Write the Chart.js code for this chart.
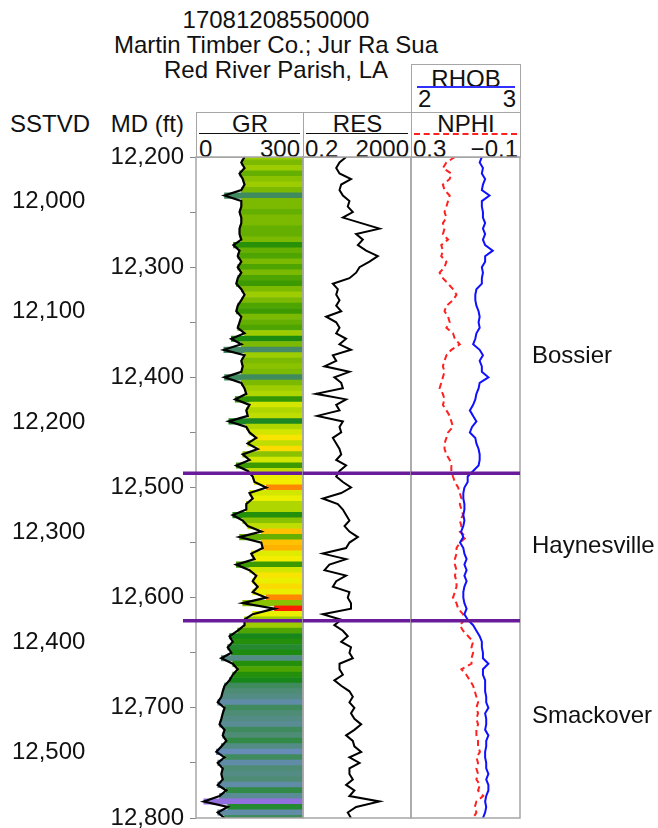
<!DOCTYPE html>
<html>
<head>
<meta charset="utf-8">
<script src="https://cdn.jsdelivr.net/npm/chart.js"></script>
<style>
	html, body { margin: 0; padding: 0; background: #fff; overflow: hidden; }
	body { width: 658px; height: 828px; position: relative; font-family: "Liberation Sans", Arial, sans-serif; color: #111; }
	.t { position: absolute; font-size: 24px; line-height: 28px; height: 28px; white-space: nowrap; }
	.c { text-align: center; }
	.r { text-align: right; }
	.box { position: absolute; border: 1px solid #a6a6a6; box-sizing: border-box; }
	.ul { position: absolute; height: 0; }
	canvas { position: absolute; }
</style>
</head>
<body>

<div class="t c" style="left:76px;width:400px;top:6px">17081208550000</div>
<div class="t c" style="left:76px;width:400px;top:31px">Martin Timber Co.; Jur Ra Sua</div>
<div class="t c" style="left:76px;width:400px;top:56px">Red River Parish, LA</div>

<div class="t" style="left:10px;top:110px">SSTVD</div>
<div class="t r" style="left:84px;width:100px;top:110px">MD (ft)</div>

<!-- RHOB header -->
<div class="box" style="left:411px;top:64px;width:110px;height:49px"></div>
<div class="t c" style="left:411px;width:110px;top:65px">RHOB</div>
<div class="ul" style="left:417px;width:98px;top:86px;border-top:2px solid #3030ff"></div>
<div class="t" style="left:418px;top:85px">2</div>
<div class="t r" style="left:470px;width:46px;top:85px">3</div>

<!-- track headers -->
<div class="box" style="left:196px;top:112px;width:108px;height:46px"></div>
<div class="box" style="left:303px;top:112px;width:109px;height:46px"></div>
<div class="box" style="left:411px;top:112px;width:110px;height:46px"></div>

<div class="t c" style="left:196px;width:108px;top:110px">GR</div>
<div class="ul" style="left:199px;width:101px;top:133px;border-top:1.5px solid #111"></div>
<div class="t" style="left:199px;top:135px">0</div>
<div class="t r" style="left:240px;width:60px;top:135px">300</div>

<div class="t c" style="left:303px;width:109px;top:110px">RES</div>
<div class="ul" style="left:306px;width:102px;top:133px;border-top:1.5px solid #111"></div>
<div class="t" style="left:305px;top:135px">0.2</div>
<div class="t r" style="left:349px;width:60px;top:135px">2000</div>

<div class="t c" style="left:411px;width:110px;top:110px">NPHI</div>
<div class="ul" style="left:414px;width:103px;top:133px;border-top:2px dashed #ff2020"></div>
<div class="t" style="left:413px;top:135px">0.3</div>
<div class="t r" style="left:458px;width:60px;top:135px">&minus;0.1</div>

<canvas id="grChart" width="305" height="718" style="left:0px;top:130px"></canvas>
<canvas id="resChart" width="128" height="718" style="left:293px;top:130px"></canvas>
<canvas id="nphiChart" width="257" height="718" style="left:401px;top:130px"></canvas>

<script>
	// depth (MD, ft)
	var depth = [
		12200, 12205, 12210, 12215, 12220, 12225, 12230, 12235, 12240, 12245,
		12250, 12255, 12260, 12265, 12270, 12275, 12280, 12285, 12290, 12295,
		12300, 12305, 12310, 12315, 12320, 12325, 12330, 12335, 12340, 12345,
		12350, 12355, 12360, 12365, 12370, 12375, 12380, 12385, 12390, 12395,
		12400, 12405, 12410, 12415, 12420, 12425, 12430, 12435, 12440, 12445,
		12450, 12455, 12460, 12465, 12470, 12475, 12480, 12485, 12490, 12495,
		12500, 12505, 12510, 12515, 12520, 12525, 12530, 12535, 12540, 12545,
		12550, 12555, 12560, 12565, 12570, 12575, 12580, 12585, 12590, 12595,
		12600, 12605, 12610, 12615, 12620, 12625, 12630, 12635, 12640, 12645,
		12650, 12655, 12660, 12665, 12670, 12675, 12680, 12685, 12690, 12695,
		12700, 12705, 12710, 12715, 12720, 12725, 12730, 12735, 12740, 12745,
		12750, 12755, 12760, 12765, 12770, 12775, 12780, 12785, 12790, 12795,
		12800
	];

	// gamma ray (API)
	var gr = [
		136, 127, 136, 122, 131, 136, 127, 80, 127, 127,
		122, 127, 127, 122, 122, 127, 105, 122, 117, 127,
		117, 127, 117, 113, 127, 136, 127, 117, 113, 127,
		122, 117, 136, 99, 127, 78, 136, 127, 131, 127,
		80, 127, 136, 141, 110, 150, 141, 145, 92, 141,
		150, 169, 145, 173, 131, 150, 113, 145, 159, 164,
		197, 150, 159, 141, 141, 103, 131, 145, 183, 122,
		183, 187, 155, 164, 113, 150, 169, 159, 173, 159,
		197, 131, 220, 159, 136, 136, 117, 94, 103, 89,
		99, 71, 103, 117, 103, 94, 80, 75, 71, 61,
		80, 75, 71, 66, 80, 75, 85, 71, 57, 80,
		61, 75, 71, 75, 61, 85, 66, 22, 89, 61,
		80
	];

	// resistivity (ohm.m)
	var res = [
		7.9, 4.5, 3.4, 4.5, 12, 5.2, 4.5, 6.0, 10.5, 9.1,
		14, 6.0, 28.6, 136, 18.6, 32.9, 21.5, 43.7, 118, 58,
		24.8, 18.6, 10.5, 2.55, 3.9, 3.4, 4.5, 3.4, 5.2, 1.44,
		3.4, 4.5, 3.4, 7.9, 4.5, 12, 2.55, 3.4, 1.25, 10.5,
		2.9, 5.2, 6.0, 0.6, 7.9, 3.4, 4.5, 0.68, 6.0, 4.5,
		5.2, 2.55, 3.4, 4.5, 5.2, 3.4, 7.9, 4.5, 3.4, 6.0,
		12, 5.2, 1.08, 3.9, 6.0, 7.9, 10.5, 6.9, 10.5, 21.5,
		10.5, 7.9, 1.08, 7.9, 1.9, 1.25, 7.9, 3.4, 2.55, 10.5,
		9.1, 12, 12, 1.08, 5.2, 2.9, 6.0, 9.1, 5.2, 12,
		10.5, 14, 4.5, 4.5, 6.0, 2.9, 5.2, 10.5, 14, 10.5,
		16, 12, 16, 28.6, 16, 7.9, 14, 16, 28.6, 10.5,
		24.8, 10.5, 10.5, 14, 7.9, 16, 10.5, 136, 18.6, 9.1,
		12
	];

	// neutron porosity (v/v)
	var nphi = [
		0.139, 0.170, 0.183, 0.152, 0.158, 0.183, 0.177, 0.158, 0.164, 0.170,
		0.177, 0.170, 0.183, 0.177, 0.183, 0.164, 0.189, 0.183, 0.189, 0.170,
		0.177, 0.195, 0.183, 0.164, 0.146, 0.133, 0.146, 0.170, 0.177, 0.164,
		0.158, 0.170, 0.146, 0.139, 0.121, 0.152, 0.170, 0.177, 0.183, 0.177,
		0.183, 0.189, 0.195, 0.183, 0.177, 0.183, 0.170, 0.158, 0.152, 0.146,
		0.164, 0.170, 0.177, 0.177, 0.170, 0.158, 0.152, 0.152, 0.146, 0.139,
		0.127, 0.121, 0.115, 0.121, 0.115, 0.109, 0.121, 0.115, 0.121, 0.097,
		0.121, 0.133, 0.133, 0.139, 0.139, 0.133, 0.139, 0.133, 0.133, 0.139,
		0.146, 0.133, 0.127, 0.109, 0.103, 0.121, 0.109, 0.090, 0.072, 0.078,
		0.072, 0.078, 0.078, 0.115, 0.097, 0.084, 0.072, 0.066, 0.060, 0.054,
		0.060, 0.054, 0.060, 0.054, 0.060, 0.060, 0.054, 0.054, 0.047, 0.060,
		0.054, 0.060, 0.054, 0.060, 0.047, 0.054, 0.035, 0.060, 0.066, 0.060,
		0.072
	];

	// bulk density (g/cc)
	var rhob = [
		2.65, 2.63, 2.66, 2.65, 2.68, 2.66, 2.65, 2.72, 2.65, 2.65,
		2.66, 2.66, 2.68, 2.66, 2.68, 2.66, 2.68, 2.75, 2.68, 2.68,
		2.65, 2.66, 2.65, 2.65, 2.60, 2.59, 2.59, 2.60, 2.62, 2.63,
		2.62, 2.63, 2.60, 2.59, 2.57, 2.63, 2.66, 2.63, 2.65, 2.65,
		2.71, 2.63, 2.62, 2.60, 2.59, 2.57, 2.54, 2.57, 2.60, 2.56,
		2.54, 2.59, 2.60, 2.62, 2.63, 2.63, 2.62, 2.57, 2.52, 2.52,
		2.49, 2.48, 2.48, 2.49, 2.49, 2.48, 2.49, 2.48, 2.46, 2.48,
		2.45, 2.48, 2.49, 2.51, 2.49, 2.51, 2.49, 2.51, 2.49, 2.48,
		2.48, 2.49, 2.51, 2.49, 2.52, 2.57, 2.60, 2.63, 2.65, 2.65,
		2.66, 2.66, 2.71, 2.66, 2.66, 2.68, 2.68, 2.68, 2.69, 2.69,
		2.71, 2.68, 2.69, 2.69, 2.68, 2.71, 2.69, 2.69, 2.68, 2.68,
		2.69, 2.69, 2.71, 2.69, 2.71, 2.71, 2.69, 2.68, 2.69, 2.68,
		2.66
	];

	// depth tick labels
	var mdTicks = [12200, 12250, 12300, 12350, 12400, 12450, 12500, 12550, 12600, 12650, 12700, 12750, 12800];
	var sstvdTicks = [12000, 12100, 12200, 12300, 12400, 12500];

	// formation tops
	var tops = [12487, 12621];
	var formations = ['Bossier', 'Haynesville', 'Smackover'];
	var formationLabelDepth = [12381, 12553, 12708];

	var mdMin = 12200;
	var mdMax = 12800;
	var sstvdShift = 240.5;

	Chart.defaults.font.family = '"Liberation Sans", Arial, sans-serif';
	Chart.defaults.font.size = 24;
	Chart.defaults.color = '#111';
	Chart.defaults.animation = false;

	// GR colour ramp for the fill
	var grStops = [
		[20, [150, 110, 225]], [55, [105, 140, 190]], [75, [78, 140, 118]],
		[95, [20, 135, 20]], [112, [55, 152, 0]], [125, [115, 182, 0]],
		[138, [165, 208, 0]], [150, [210, 230, 0]], [162, [242, 242, 0]],
		[180, [255, 205, 0]], [195, [255, 145, 0]], [220, [255, 30, 0]]
	];
	function grColor(v) {
		if (v <= grStops[0][0]) return 'rgb(' + grStops[0][1].join(',') + ')';
		for (var i = 1; i < grStops.length; i++) {
			if (v <= grStops[i][0]) {
				var a = grStops[i - 1], b = grStops[i];
				var t = (v - a[0]) / (b[0] - a[0]);
				var c = a[1].map(function (x, k) { return Math.round(x + (b[1][k] - x) * t); });
				return 'rgb(' + c.join(',') + ')';
			}
		}
		return 'rgb(' + grStops[grStops.length - 1][1].join(',') + ')';
	}

	var trackPlugin = {
		id: 'track',
		afterDraw: function (chart, args, opts) {
			var ctx = chart.ctx, a = chart.chartArea, y = chart.scales.y;
			ctx.save();
			ctx.strokeStyle = '#a6a6a6';
			ctx.lineWidth = 1.5;
			ctx.strokeRect(a.left, a.top, a.right - a.left, a.bottom - a.top);
			ctx.strokeStyle = '#6a1b9a';
			ctx.lineWidth = 3.5;
			tops.forEach(function (d) {
				var py = y.getPixelForValue(d);
				ctx.beginPath();
				ctx.moveTo(a.left - (opts.extendLeft || 0), py);
				ctx.lineTo(a.right, py);
				ctx.stroke();
			});
			if (opts.labels) {
				ctx.fillStyle = '#111';
				ctx.font = '24px "Liberation Sans", Arial, sans-serif';
				ctx.textBaseline = 'middle';
				formations.forEach(function (n, i) {
					ctx.fillText(n, a.right + 12, y.getPixelForValue(formationLabelDepth[i]));
				});
			}
			ctx.restore();
		}
	};

	function depthAxis() {
		return { type: 'linear', reverse: true, min: mdMin, max: mdMax, offset: false, display: false };
	}

	// GR track with depth axes
	new Chart(document.getElementById('grChart'), {
		type: 'bar',
		data: {
			datasets: [
				{
					type: 'line',
					data: depth.map(function (d, i) { return { x: gr[i], y: d }; }),
					borderColor: '#000',
					borderWidth: 2.2,
					pointRadius: 0,
					tension: 0,
					indexAxis: 'y',
					xAxisID: 'x',
					yAxisID: 'y'
				},
				{
					type: 'bar',
					data: depth.map(function (d, i) { return { x: [gr[i], 300], y: d }; }),
					backgroundColor: gr.map(grColor),
					borderWidth: 0,
					barPercentage: 1,
					categoryPercentage: 1,
					xAxisID: 'x',
					yAxisID: 'y'
				}
			]
		},
		options: {
			indexAxis: 'y',
			responsive: false,
			layout: { padding: { left: 12, top: 27, bottom: 30, right: 2 } },
			plugins: { legend: { display: false }, tooltip: { enabled: false }, track: { extendLeft: 13 } },
			scales: {
				x: { type: 'linear', min: 0, max: 300, display: false },
				y: {
					type: 'linear', reverse: true, min: mdMin, max: mdMax, position: 'left', offset: false,
					afterFit: function (s) { s.width = 94; },
					afterBuildTicks: function (s) { s.ticks = mdTicks.map(function (v) { return { value: v }; }); },
					ticks: {
						padding: 6,
						callback: function (v) { return v % 100 === 0 ? v.toLocaleString('en-US') : ''; }
					},
					grid: { drawOnChartArea: false, offset: false, tickLength: 6, color: '#888' },
					border: { display: false }
				},
				ySS: {
					type: 'linear', reverse: true, min: mdMin - sstvdShift, max: mdMax - sstvdShift,
					position: 'left', weight: 1, offset: false,
					afterFit: function (s) { s.width = 90; },
					afterBuildTicks: function (s) { s.ticks = sstvdTicks.map(function (v) { return { value: v }; }); },
					ticks: {
						crossAlign: 'far',
						callback: function (v) { return v.toLocaleString('en-US'); }
					},
					grid: { display: false },
					border: { display: false }
				}
			}
		},
		plugins: [trackPlugin]
	});

	// Resistivity track
	new Chart(document.getElementById('resChart'), {
		type: 'line',
		data: {
			datasets: [{
				data: depth.map(function (d, i) { return { x: res[i], y: d }; }),
				borderColor: '#000',
				borderWidth: 2,
				pointRadius: 0,
				tension: 0
			}]
		},
		options: {
			indexAxis: 'y',
			responsive: false,
			layout: { padding: { left: 10, right: 10, top: 27, bottom: 30 } },
			plugins: { legend: { display: false }, tooltip: { enabled: false }, track: {} },
			scales: {
				x: { type: 'logarithmic', min: 0.2, max: 2000, display: false },
				y: depthAxis()
			}
		},
		plugins: [trackPlugin]
	});

	// Neutron / density track
	new Chart(document.getElementById('nphiChart'), {
		type: 'line',
		data: {
			datasets: [
				{
					label: 'RHOB',
					data: depth.map(function (d, i) { return { x: rhob[i], y: d }; }),
					xAxisID: 'xR',
					borderColor: '#1010ff',
					borderWidth: 2,
					pointRadius: 0,
					tension: 0
				},
				{
					label: 'NPHI',
					data: depth.map(function (d, i) { return { x: nphi[i], y: d }; }),
					xAxisID: 'xN',
					borderColor: '#ff2020',
					borderWidth: 2,
					borderDash: [6, 4],
					pointRadius: 0,
					tension: 0
				}
			]
		},
		options: {
			indexAxis: 'y',
			responsive: false,
			layout: { padding: { left: 10, right: 138, top: 27, bottom: 30 } },
			plugins: { legend: { display: false }, tooltip: { enabled: false }, track: { labels: true } },
			scales: {
				xN: { type: 'linear', axis: 'x', min: -0.1, max: 0.3, reverse: true, display: false },
				xR: { type: 'linear', axis: 'x', min: 2, max: 3, display: false },
				y: depthAxis()
			}
		},
		plugins: [trackPlugin]
	});
</script>
</body>
</html>
